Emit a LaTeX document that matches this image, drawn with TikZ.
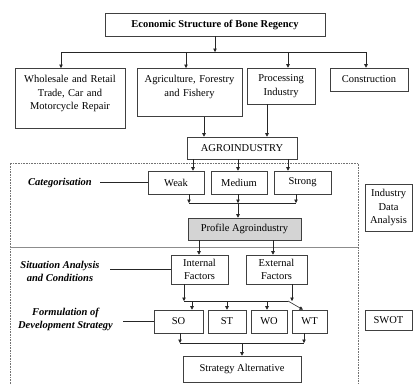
\documentclass[tikz,border=0pt]{standalone}
\usepackage{fontspec}
\setmainfont{Liberation Serif}
\usetikzlibrary{arrows.meta,positioning,calc}

\begin{document}
\begin{tikzpicture}[x=1pt,y=-1pt,
    font=\fontsize{10.5}{13.5}\selectfont,
    box/.style={draw=black!75,line width=0.6pt,align=center,inner sep=3pt},
    topbox/.style={box,anchor=north,inner ysep=4pt,text height=10.5pt},
    arr/.style={draw=black!85,line width=0.6pt,-{Triangle[length=3.5pt,width=3.5pt]}},
    ln/.style={draw=black!85,line width=0.6pt},
    lab/.style={font=\fontsize{10.5}{13}\selectfont\bfseries\itshape,align=center}]
  \useasboundingbox (0,0) rectangle (415,384);

  % frame of the analysis part
  \draw[black!55,densely dotted,line width=0.6pt] (10,384) -- (10,163) -- (358,163) -- (358,384);
  \draw[black!45,line width=0.6pt] (10,247) -- (358,247);

  % sectors
  \node[box,minimum width=220pt,minimum height=23pt,font=\fontsize{10.5}{13}\selectfont\bfseries] (econ) at (215,24.5) {Economic Structure of Bone Regency};
  \node[topbox,text width=104pt,text depth=41.5pt] (whole) at (70,68) {Wholesale and Retail\\Trade, Car and\\Motorcycle Repair};
  \node[topbox,text width=99pt,text depth=29.5pt] (agri) at (189.5,68) {Agriculture, Forestry\\and Fishery};
  \node[box,minimum width=68pt,minimum height=36pt] (proc) at (281,86) {Processing\\Industry};
  \node[box,minimum width=78pt,minimum height=23pt] (constr) at (369,79.5) {Construction};
  \coordinate (bus) at (215,52);
  \draw[arr] (econ.south) -- (bus);
  \draw[ln] (61,0 |- bus) -- (366,0 |- bus);
  \foreach \xx/\nn in {61/whole,186/agri,288/proc,366/constr}
    \draw[arr] (\xx,0 |- bus) -- (\xx,0 |- \nn.north);

  % agroindustry and categories
  \node[box,minimum width=110pt,minimum height=22pt] (agro) at (242,148) {AGROINDUSTRY};
  \draw[arr] (204,0 |- agri.south) -- (204,0 |- agro.north);
  \draw[arr] (267,0 |- proc.south) -- (267,0 |- agro.north);
  \node[box,minimum width=56pt,minimum height=23pt] (weak) at (176,182.5) {Weak};
  \node[box,minimum width=56pt,minimum height=23pt] (medium) at (239,182.5) {Medium};
  \node[box,minimum width=57pt,minimum height=23pt] (strong) at (302.5,182.5) {Strong};
  \foreach \xx/\nn in {193/weak,238/medium,288/strong}
    \draw[arr] (\xx,0 |- agro.south) -- (\xx,0 |- \nn.north);
  \node[lab] (catlab) at (60,183) {Categorisation};
  \draw[ln] (100,0 |- weak.west) -- (weak.west);
  \coordinate (catbus) at (238,203);
  \draw[ln] (189,0 |- catbus) -- (296,0 |- catbus);
  \foreach \xx/\nn in {189/weak,238/medium,296/strong}
    \draw[arr] (\xx,0 |- \nn.south) -- (\xx,0 |- catbus);
  \node[box,fill=black!17,minimum width=113pt,minimum height=22pt] (profile) at (244.5,229) {Profile Agroindustry};
  \draw[arr] (catbus) -- (catbus |- profile.north);
  \node[box,minimum width=47pt,minimum height=47pt] (ida) at (388.5,207.5) {Industry\\Data\\Analysis};

  % situation analysis
  \node[box,minimum width=57pt,minimum height=29pt] (intern) at (199.5,269.5) {Internal\\Factors};
  \node[box,minimum width=61pt,minimum height=29pt] (extern) at (276.5,269.5) {External\\Factors};
  \draw[arr] (199,0 |- profile.south) -- (199,0 |- intern.north);
  \draw[arr] (273,0 |- profile.south) -- (273,0 |- extern.north);
  \node[lab] (sitlab) at (60,271) {Situation Analysis\\and Conditions};
  \draw[ln] (110,0 |- intern.west) -- (intern.west);

  % strategies
  \node[box,minimum width=49pt,minimum height=23pt] (so) at (178.5,321.5) {SO};
  \node[box,minimum width=38pt,minimum height=23pt] (st) at (227,321.5) {ST};
  \node[box,minimum width=36pt,minimum height=23pt] (wo) at (269,321.5) {WO};
  \node[box,minimum width=35pt,minimum height=23pt] (wt) at (309.5,321.5) {WT};
  \coordinate (sitbus) at (184,301);
  \draw[arr] (184,0 |- intern.south) -- (sitbus);
  \draw[arr] (292,0 |- extern.south) -- (292,0 |- sitbus);
  \draw[ln] (sitbus) -- (288,0 |- sitbus);
  \draw[arr] (288,0 |- sitbus) -- (303,0 |- wt.north);
  \foreach \xx/\nn in {192/so,227/st,267/wo}
    \draw[arr] (\xx,0 |- sitbus) -- (\xx,0 |- \nn.north);
  \node[lab] (forlab) at (65.5,319.5) {Formulation of\\Development Strategy};
  \draw[ln] (123,0 |- so.west) -- (so.west);
  \node[box,minimum width=47pt,minimum height=20pt] (swot) at (388.5,320) {SWOT};

  \coordinate (strbus) at (242,343);
  \draw[ln] (180,0 |- strbus) -- (304,0 |- strbus);
  \draw[arr] (180,0 |- so.south) -- (180,0 |- strbus);
  \draw[arr] (304,0 |- wt.south) -- (304,0 |- strbus);
  \node[box,minimum width=118pt,minimum height=26pt] (alt) at (242,369) {Strategy Alternative};
  \draw[arr] (strbus) -- (strbus |- alt.north);
\end{tikzpicture}
\end{document}
